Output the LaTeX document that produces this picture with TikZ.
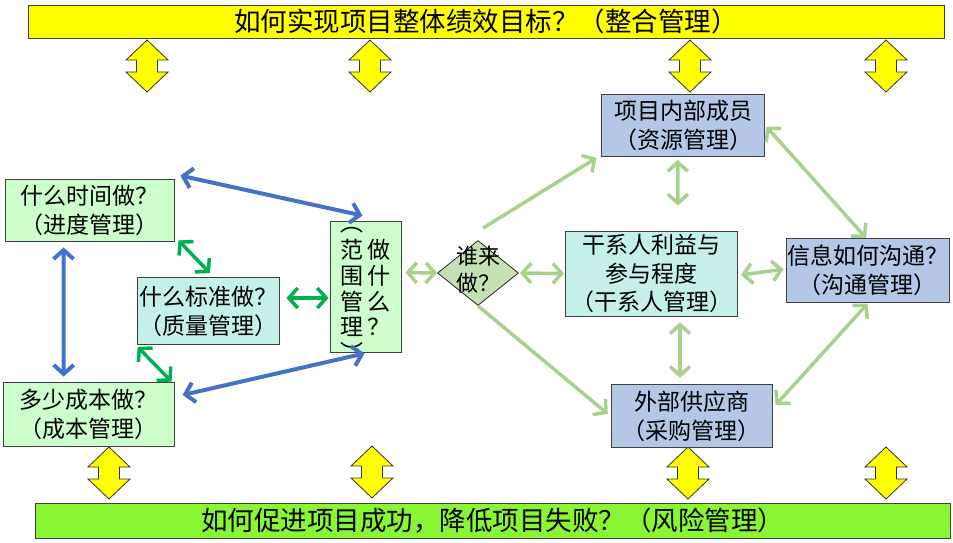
\documentclass[tikz,border=0pt]{standalone}
\usepackage{fontspec}
\setmainfont{Noto Sans CJK SC}
\usetikzlibrary{arrows.meta,shapes.geometric}
\definecolor{barY}{RGB}{255,255,0}
\definecolor{barG}{RGB}{138,245,50}
\definecolor{boxG}{RGB}{204,255,204}
\definecolor{boxC}{RGB}{197,240,234}
\definecolor{boxB}{RGB}{180,199,231}
\definecolor{diaG}{RGB}{197,224,180}
\definecolor{linkB}{RGB}{68,114,196}
\definecolor{linkG}{RGB}{0,176,80}
\definecolor{linkL}{RGB}{169,209,142}

\begin{document}
\begin{tikzpicture}[x=1pt, y=-1pt,
  bar/.style={draw=black!75, line width=1pt, inner sep=0pt, font=\fontsize{26.5}{28}\selectfont},
  box/.style={draw=black!75, line width=0.8pt, align=center, inner sep=0pt, font=\fontsize{23}{29}\selectfont},
  decision/.style={draw=black!85, line width=0.8pt, diamond, inner sep=0pt, fill=diaG, font=\fontsize{22}{27}\selectfont},
  tip/.style={{Straight Barb[length=9pt,width=20pt]}-{Straight Barb[length=9pt,width=20pt]}},
  bluelink/.style={tip, line width=4pt, draw=linkB},
  greenlink/.style={tip, line width=3.5pt, draw=linkG},
  lightlink/.style={tip, line width=3.5pt, draw=linkL},
  onelink/.style={-{Straight Barb[length=9pt,width=20pt]}, line width=3.5pt, draw=linkL},
  yarrow/.pic={\draw[draw=black!80, fill=barY, line width=0.8pt, line join=miter]
    (0,-26) -- (21,-6) -- (10.5,-6) -- (10.5,6) -- (21,6) -- (0,26)
    -- (-21,6) -- (-10.5,6) -- (-10.5,-6) -- (-21,-6) -- cycle;}
]
\useasboundingbox (0,0) rectangle (953,542);
\node[bar, fill=barY, minimum width=916pt, minimum height=33pt] (goal) at (486,21.5) {如何实现项目整体绩效目标？（整合管理）};
\node[bar, fill=barG, minimum width=915pt, minimum height=35pt] (risk) at (492.5,520.5) {如何促进项目成功，降低项目失败？（风险管理）};
\pic (t1) at (147,66) {yarrow};
\pic (t2) at (370,66) {yarrow};
\pic (t3) at (690,66) {yarrow};
\pic (t4) at (886,66) {yarrow};
\pic (b1) at (109,473) {yarrow};
\pic (b2) at (372,472) {yarrow};
\pic (b3) at (688,473) {yarrow};
\pic (b4) at (886,473) {yarrow};
\node[box, fill=boxG, minimum width=169pt, minimum height=62pt] (time) at (89.5,210) {什么时间做？\\（进度管理）};
\node[box, fill=boxC, minimum width=142pt, minimum height=67pt] (quality) at (208,311) {什么标准做？\\（质量管理）};
\node[box, fill=boxG, minimum width=171pt, minimum height=64pt] (cost) at (88.7,414) {多少成本做？\\（成本管理）};
\node[box, fill=boxG, minimum width=71pt, minimum height=131pt, font=\fontsize{23}{23}\selectfont] (scope) at (365.5,286.5)
  {\raisebox{-12pt}[0pt][0pt]{\makebox[0pt]{\begin{tabular}{@{}c@{\hspace{4pt}}c@{}}︵ & \\ 范 & 做\\ 围 & 什\\ 管 & 么\\ 理 & ？\\ ︶ & \end{tabular}}}};
\node[decision, minimum width=81pt, minimum height=65pt] (who) at (478,273)
  {\raisebox{-5pt}[0pt][0pt]{\makebox[0pt]{\begin{tabular}{@{}c@{}}谁来\\做？\end{tabular}}}};
\node[box, fill=boxB, minimum width=163pt, minimum height=62pt] (staff) at (683.3,125.5) {项目内部成员\\（资源管理）};
\node[box, fill=boxC, minimum width=172pt, minimum height=85pt, font=\fontsize{23}{28.5}\selectfont] (stake) at (651.5,273.5) {干系人利益与\\参与程度\\（干系人管理）};
\node[box, fill=boxB, minimum width=163pt, minimum height=64pt] (comm) at (867.5,270.3) {信息如何沟通？\\（沟通管理）};
\node[box, fill=boxB, minimum width=161pt, minimum height=63pt] (supply) at (691.7,416) {外部供应商\\（采购管理）};
\draw[bluelink] ([shift={(6pt,3pt)}]time.north east) -- ([shift={(-3pt,5pt)}]scope.north);
\draw[bluelink] ([shift={(-26pt,-6pt)}]time.south) -- ([shift={(-25pt,5pt)}]cost.north);
\draw[bluelink] ([shift={(8pt,19pt)}]cost.east) -- ([shift={(-1pt,-1pt)}]scope.south);
\draw[greenlink] ([shift={(4pt,1pt)}]time.south east) -- ([shift={(2pt,4pt)}]quality.north);
\draw[greenlink] ([shift={(7pt,13pt)}]quality.east) -- ([shift={(-1pt,-11.5pt)}]scope.west);
\draw[greenlink] ([shift={(1pt,-2pt)}]quality.south west) -- ([shift={(-3pt,0pt)}]cost.north east);
\draw[lightlink] ([shift={(4pt,14pt)}]scope.east) -- (who.west);
\draw[onelink] ([shift={(5pt,12pt)}]who.north) -- ([shift={(-5pt,-1pt)}]staff.south west);
\draw[onelink] (who.south) -- ([shift={(-3pt,2pt)}]supply.west);
\draw[lightlink] ([xshift=1pt]who.east) -- ([xshift=-1pt]stake.west);
\draw[lightlink] ([shift={(-5.6pt,-3pt)}]staff.south) -- ([shift={(26.5pt,25pt)}]stake.north);
\draw[lightlink] ([shift={(28.5pt,-6pt)}]stake.south) -- ([shift={(-11.7pt,6.3pt)}]supply.north);
\draw[lightlink] ([shift={(3pt,-1.5pt)}]stake.east) -- ([shift={(-2pt,1pt)}]comm.west);
\draw[lightlink] ([shift={(1pt,-1pt)}]staff.east) -- ([shift={(-1.5pt,0pt)}]comm.north);
\draw[lightlink] ([yshift=-1pt]comm.south) -- ([shift={(3pt,11pt)}]supply.east);
\end{tikzpicture}
\end{document}
